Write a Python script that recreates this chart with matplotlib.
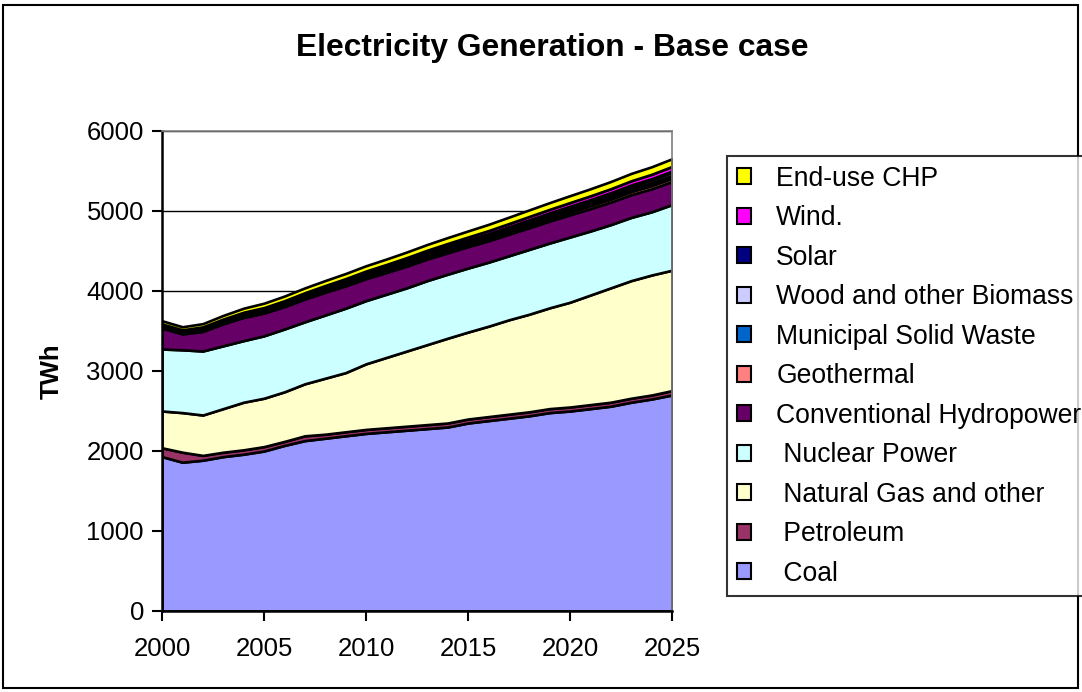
import matplotlib
matplotlib.use('Agg')
import matplotlib.pyplot as plt
from matplotlib.patches import Patch, Rectangle

plt.rcParams['font.family'] = ['Liberation Sans', 'DejaVu Sans']

years = list(range(2000, 2026))

# generation by source, TWh
coal = [1930, 1860, 1885, 1930, 1960, 2000, 2070, 2130, 2160, 2190, 2220, 2240, 2260,
        2280, 2300, 2350, 2380, 2410, 2440, 2480, 2500, 2530, 2560, 2610, 2650, 2700]
petroleum = [110, 125, 60, 55, 55, 55, 50, 60, 50, 50, 50, 50, 50,
             50, 50, 50, 50, 50, 50, 50, 50, 50, 50, 50, 50, 55]
gas = [460, 495, 505, 545, 595, 605, 620, 650, 700, 740, 820, 880, 940,
       1000, 1060, 1087, 1130, 1180, 1220, 1260, 1310, 1370, 1430, 1470, 1500, 1505]
nuclear = [775, 785, 800, 785, 770, 780, 785, 775, 790, 805, 790, 790, 790,
           800, 800, 800, 800, 800, 810, 810, 815, 800, 790, 790, 790, 820]
hydro = [262, 199, 245, 275, 290, 285, 280, 285, 285, 280, 275, 272, 272,
         270, 268, 268, 268, 270, 272, 275, 278, 280, 282, 285, 288, 290]
geothermal = [14, 13, 14, 14, 15, 15, 16, 17, 18, 19, 20, 21, 22,
              23, 24, 25, 27, 29, 31, 33, 35, 37, 38, 39, 40, 40]
msw = [20, 21, 22, 22, 23, 23, 24, 25, 26, 27, 28, 29, 30,
       30, 31, 31, 32, 32, 33, 33, 34, 34, 35, 35, 36, 36]
biomass = [10, 9, 10, 11, 12, 13, 14, 15, 16, 17, 18, 19, 20,
           21, 22, 23, 24, 25, 26, 27, 28, 30, 32, 34, 36, 38]
solar = [1, 1, 1, 1, 1, 1, 2, 2, 2, 3, 3, 3, 4,
         4, 5, 5, 6, 7, 8, 9, 10, 11, 12, 13, 14, 15]
wind = [6, 7, 10, 12, 14, 16, 18, 20, 22, 24, 26, 28, 30,
        32, 34, 36, 38, 40, 42, 44, 46, 48, 50, 52, 55, 58]
chp = [40, 38, 40, 45, 50, 55, 58, 60, 62, 64, 66, 68, 70,
       72, 74, 76, 78, 80, 82, 84, 86, 88, 90, 92, 94, 96]

series = [coal, petroleum, gas, nuclear, hydro, geothermal, msw, biomass, solar, wind, chp]
labels = [' Coal', ' Petroleum', ' Natural Gas and other', ' Nuclear Power',
          'Conventional Hydropower', 'Geothermal', 'Municipal Solid Waste',
          'Wood and other Biomass', 'Solar', 'Wind.', 'End-use CHP']
colors = ['#9999FF', '#993366', '#FFFFCC', '#CCFFFF', '#660066', '#FF8080',
          '#0066CC', '#CCCCFF', '#000080', '#FF00FF', '#FFFF00']

fig = plt.figure(figsize=(10.82, 6.92), dpi=100)
ax = fig.add_axes([162/1082, 1 - 611/692, 510/1082, 480/692])

ax.stackplot(years, *series, colors=colors, edgecolor='black', linewidth=1.9)

ax.set_xlim(2000, 2025)
ax.set_ylim(0, 6000)
ax.set_xticks(range(2000, 2026, 5))
ax.set_yticks(range(0, 6001, 1000))
ax.yaxis.grid(True, color='black', linewidth=1)
ax.set_axisbelow(True)
ax.tick_params(direction='out', length=7, width=1.5, labelsize=18.5, pad=6)
ax.tick_params(axis='x', pad=12)
for side in ['left', 'bottom']:
    ax.spines[side].set_linewidth(1.8)
for side in ['top', 'right']:
    ax.spines[side].set_color('#808080')
    ax.spines[side].set_linewidth(1.2)

ax.set_ylabel('TWh', fontsize=18.5, fontweight='bold', labelpad=16)
fig.text(552/1082, 1 - 48/692, 'Electricity Generation - Base case',
         ha='center', va='center', fontsize=22.9, fontweight='bold')

handles = [Patch(facecolor=c, edgecolor='black', linewidth=1.5) for c in colors]
leg = fig.legend(handles[::-1], labels[::-1], loc='upper left',
                 bbox_to_anchor=(727/1082, 1 - 156/692), frameon=True, fancybox=False,
                 edgecolor='black', fontsize=19.1, handlelength=0.55, handleheight=0.55,
                 handletextpad=0.95, labelspacing=0.51, borderpad=0.36, borderaxespad=0)
leg.get_frame().set_linewidth(1.5)

fig.patches.append(Rectangle((3/1082, 1 - 688/692), 1075/1082, 683/692,
                             transform=fig.transFigure, fill=False,
                             edgecolor='black', linewidth=1.5))

fig.savefig('out.png', dpi=100)
